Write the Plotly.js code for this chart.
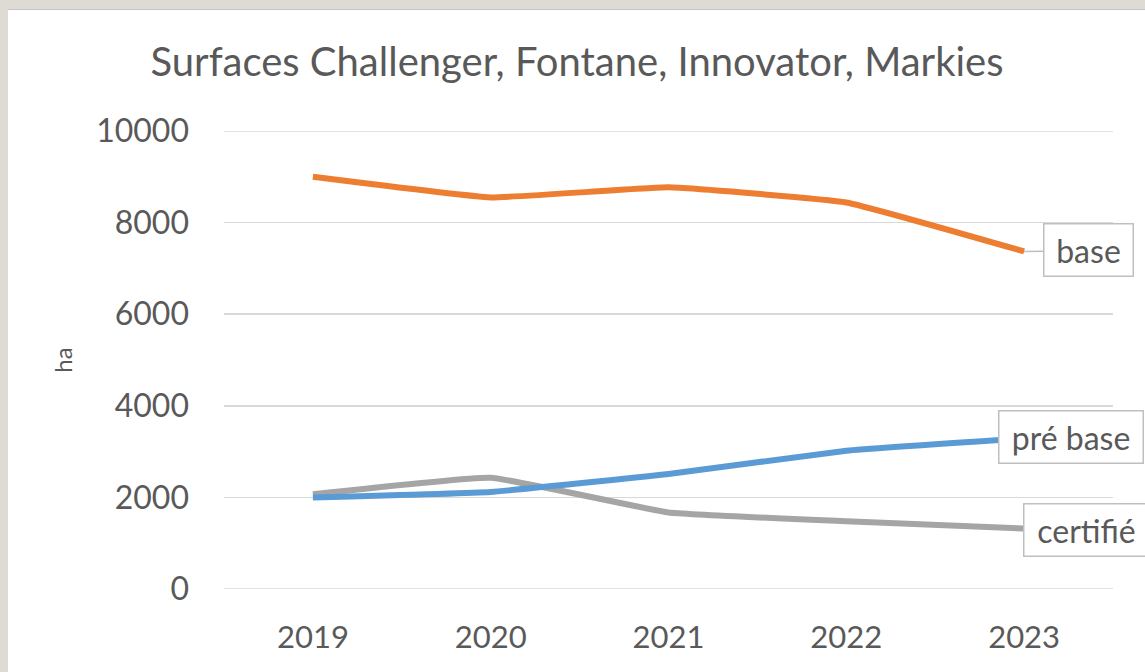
<!DOCTYPE html>
<html>
<head>
<meta charset="utf-8">
<script src="https://cdn.plot.ly/plotly-3.0.1.min.js"></script>
<style>
  html, body { margin: 0; padding: 0; width: 1145px; height: 672px; overflow: hidden; background: #dedad4; }
  #topline { position: absolute; left: 8px; top: 9px; width: 1137px; height: 1px; background: #c9c6c1; }
  #chart { position: absolute; left: 8px; top: 10px; width: 1137px; height: 662px; background: #ffffff; }
</style>
</head>
<body>
<div id="topline"></div>
<div id="chart"></div>
<script>
const years = ['2019', '2020', '2021', '2022', '2023'];
const baseValues = [9000, 8550, 8770, 8440, 7370];
const preBaseValues = [2000, 2120, 2510, 3020, 3290];
const certifieValues = [2070, 2430, 1670, 1480, 1320];
const seriesNames = ['base', 'pré base', 'certifié'];
const yTicks = [0, 2000, 4000, 6000, 8000, 10000];

const FONT = 'Lato, "Open Sans", sans-serif';
const TXT = '#595959';

function line(y, name, color) {
  return {
    x: years, y: y, name: name, type: 'scatter', mode: 'lines',
    line: { color: color, width: 6, shape: 'spline', smoothing: 0.3 },
    hoverinfo: 'skip', cliponaxis: false
  };
}

const data = [
  line(certifieValues, seriesNames[2], '#A5A5A5'),
  line(preBaseValues, seriesNames[1], '#5B9BD5'),
  line(baseValues, seriesNames[0], '#ED7D31')
];

const last = years.length - 1;
function box(extra) {
  return Object.assign({
    xref: 'x', yref: 'y',
    font: { family: FONT, size: 32, color: TXT },
    bgcolor: '#ffffff', bordercolor: '#bfbfbf', borderwidth: 1.5, borderpad: 7, height: 37
  }, extra);
}

const annotations = [
  box({ x: last, y: baseValues[last], text: seriesNames[0], width: 74,
    showarrow: true, ax: 64, ay: -1, arrowhead: 0, arrowcolor: '#bfbfbf', arrowwidth: 1.5, standoff: 0 }),
  box({ x: last, y: preBaseValues[last], text: seriesNames[1], width: 129,
    showarrow: false, xshift: 47, yshift: 1 }),
  box({ x: last, y: certifieValues[last], text: seriesNames[2], width: 110,
    showarrow: false, xshift: 62, yshift: -1.5 })
];

const shapes = [0, 10000].map(v => ({
  type: 'line', xref: 'paper', yref: 'y', x0: 0, x1: 1, y0: v, y1: v,
  line: { color: '#d9d9d9', width: 1.5 }, layer: 'below'
}));

const layout = {
  width: 1137, height: 662,
  margin: { l: 216, r: 32, t: 121, b: 83, pad: 0 },
  paper_bgcolor: '#ffffff', plot_bgcolor: '#ffffff',
  showlegend: false,
  font: { family: FONT, color: TXT },
  title: {
    text: 'Surfaces Challenger, Fontane, Innovator, Markies',
    font: { family: FONT, size: 40, color: TXT },
    x: 569 / 1137, xanchor: 'center', y: 1 - 52 / 662, yanchor: 'middle', xref: 'container', yref: 'container'
  },
  xaxis: {
    type: 'category', range: [-0.5, 4.5], showgrid: false, zeroline: false, showline: false,
    ticks: '', tickfont: { family: FONT, size: 31, color: TXT }, ticklabelstandoff: 27, fixedrange: true
  },
  yaxis: {
    range: [0, 10000], tickvals: yTicks, ticktext: yTicks.map(String),
    showgrid: true, gridcolor: '#d9d9d9', gridwidth: 1.5, zeroline: false, showline: false,
    ticks: '', tickfont: { family: FONT, size: 32, color: TXT }, ticklabelstandoff: 34,
    title: { text: 'ha', font: { family: FONT, size: 24, color: TXT }, standoff: 16 },
    fixedrange: true
  },
  shapes: shapes,
  annotations: annotations
};

Plotly.newPlot('chart', data, layout, { displayModeBar: false, staticPlot: true });
</script>
</body>
</html>
